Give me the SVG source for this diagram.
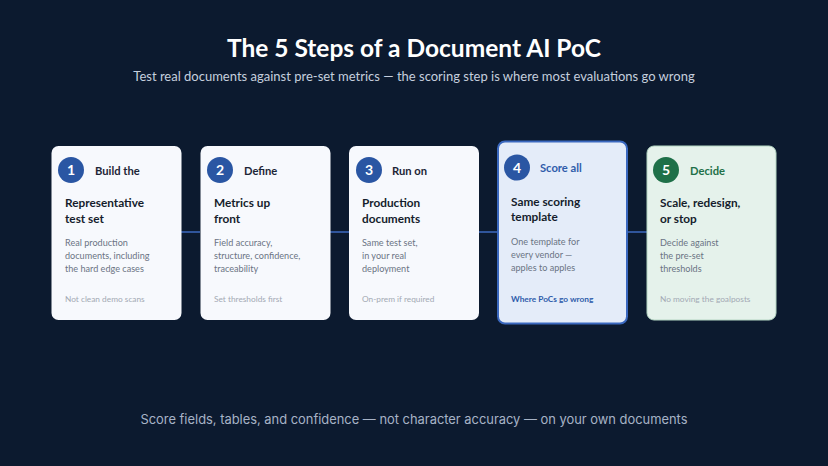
<svg xmlns="http://www.w3.org/2000/svg" width="828" height="466" viewBox="0 0 828 466">
<style>
.bg{fill:#0c1a2f}
.card{fill:#f7f9fd}
.card4{fill:#e4ecf9;stroke:#3a68bf;stroke-width:2}
.card5{fill:#e5f2eb;stroke:#b4d6c3;stroke-width:1}
.circ{fill:#2a56a3}
.circg{fill:#1e7048}
.num{font-family:Lato,"Liberation Sans",sans-serif;font-weight:700;font-size:14px;fill:#ffffff;text-anchor:middle}
.step{font-family:Lato,"Liberation Sans",sans-serif;font-weight:700;font-size:11.2px;fill:#1c2536}
.head{font-family:Lato,"Liberation Sans",sans-serif;font-weight:700;font-size:11.8px;fill:#151d2c}
.desc{font-family:Lato,"Liberation Sans",sans-serif;font-size:9.1px;fill:#6b7484}
.note{font-family:Lato,"Liberation Sans",sans-serif;font-size:8.3px;fill:#a3a9b4}
.blue{fill:#2f5cab}
.green{fill:#1e7048}
.link{stroke:#3d6ac0;stroke-width:1.5;fill:none}
</style>
<rect class="bg" x="0" y="0" width="828" height="466"/>
<text x="414" y="57" text-anchor="middle" font-family="Lato,'Liberation Sans',sans-serif" font-weight="700" font-size="24.5" fill="#ffffff">The 5 Steps of a Document AI PoC</text>
<text x="414" y="81" text-anchor="middle" font-family="Lato,'Liberation Sans',sans-serif" font-size="13" fill="#c5cfde">Test real documents against pre-set metrics — the scoring step is where most evaluations go wrong</text>
<g id="connectors">
<line class="link" x1="181" y1="232" x2="200" y2="232"/>
<line class="link" x1="330" y1="232" x2="349" y2="232"/>
<line class="link" x1="479" y1="232" x2="497" y2="232"/>
<line class="link" x1="628" y1="232" x2="647" y2="232"/>
</g>
<g id="step1">
<rect class="card" x="51.5" y="146" width="130" height="174" rx="7"/>
<circle class="circ" cx="71" cy="170" r="13"/>
<text class="num" x="71" y="175">1</text>
<text class="step" x="95" y="174.5">Build the</text>
<text class="head" x="65" y="207">Representative</text>
<text class="head" x="65" y="222.5">test set</text>
<text class="desc" x="65" y="245.5">Real production</text>
<text class="desc" x="65" y="258.5">documents, including</text>
<text class="desc" x="65" y="271.5">the hard edge cases</text>
<text class="note" x="65" y="301.5">Not clean demo scans</text>
</g>
<g id="step2">
<rect class="card" x="200.5" y="146" width="130" height="174" rx="7"/>
<circle class="circ" cx="220" cy="170" r="13"/>
<text class="num" x="220" y="175">2</text>
<text class="step" x="244" y="174.5">Define</text>
<text class="head" x="214" y="207">Metrics up</text>
<text class="head" x="214" y="222.5">front</text>
<text class="desc" x="214" y="245.5">Field accuracy,</text>
<text class="desc" x="214" y="258.5">structure, confidence,</text>
<text class="desc" x="214" y="271.5">traceability</text>
<text class="note" x="214" y="301.5">Set thresholds first</text>
</g>
<g id="step3">
<rect class="card" x="349" y="146" width="130" height="174" rx="7"/>
<circle class="circ" cx="369" cy="170" r="13"/>
<text class="num" x="369" y="175">3</text>
<text class="step" x="392" y="174.5">Run on</text>
<text class="head" x="362" y="207">Production</text>
<text class="head" x="362" y="222.5">documents</text>
<text class="desc" x="362" y="245.5">Same test set,</text>
<text class="desc" x="362" y="258.5">in your real</text>
<text class="desc" x="362" y="271.5">deployment</text>
<text class="note" x="362" y="301.5">On-prem if required</text>
</g>
<g id="step4">
<rect class="card4" x="498" y="141.5" width="129" height="182" rx="7"/>
<circle class="circ" cx="517" cy="167.5" r="13"/>
<text class="num" x="517" y="172.5">4</text>
<text class="step blue" x="540" y="172">Score all</text>
<text class="head" x="511" y="205.5">Same scoring</text>
<text class="head" x="511" y="220.5">template</text>
<text class="desc" x="511" y="244.5">One template for</text>
<text class="desc" x="511" y="257.5">every vendor —</text>
<text class="desc" x="511" y="270.5">apples to apples</text>
<text class="note blue" x="511" y="301.5" font-weight="700">Where PoCs go wrong</text>
</g>
<g id="step5">
<rect class="card5" x="647" y="146" width="129" height="174" rx="7"/>
<circle class="circg" cx="666" cy="170" r="13"/>
<text class="num" x="666" y="175">5</text>
<text class="step green" x="690" y="174.5">Decide</text>
<text class="head" x="660" y="207">Scale, redesign,</text>
<text class="head" x="660" y="222.5">or stop</text>
<text class="desc" x="660" y="245.5">Decide against</text>
<text class="desc" x="660" y="258.5">the pre-set</text>
<text class="desc" x="660" y="271.5">thresholds</text>
<text class="note" x="660" y="301.5">No moving the goalposts</text>
</g>
<text x="414" y="424" text-anchor="middle" font-family="Inter,'Liberation Sans',sans-serif" font-size="12.9" fill="#a7b3c6">Score fields, tables, and confidence — not character accuracy — on your own documents</text>
</svg>
